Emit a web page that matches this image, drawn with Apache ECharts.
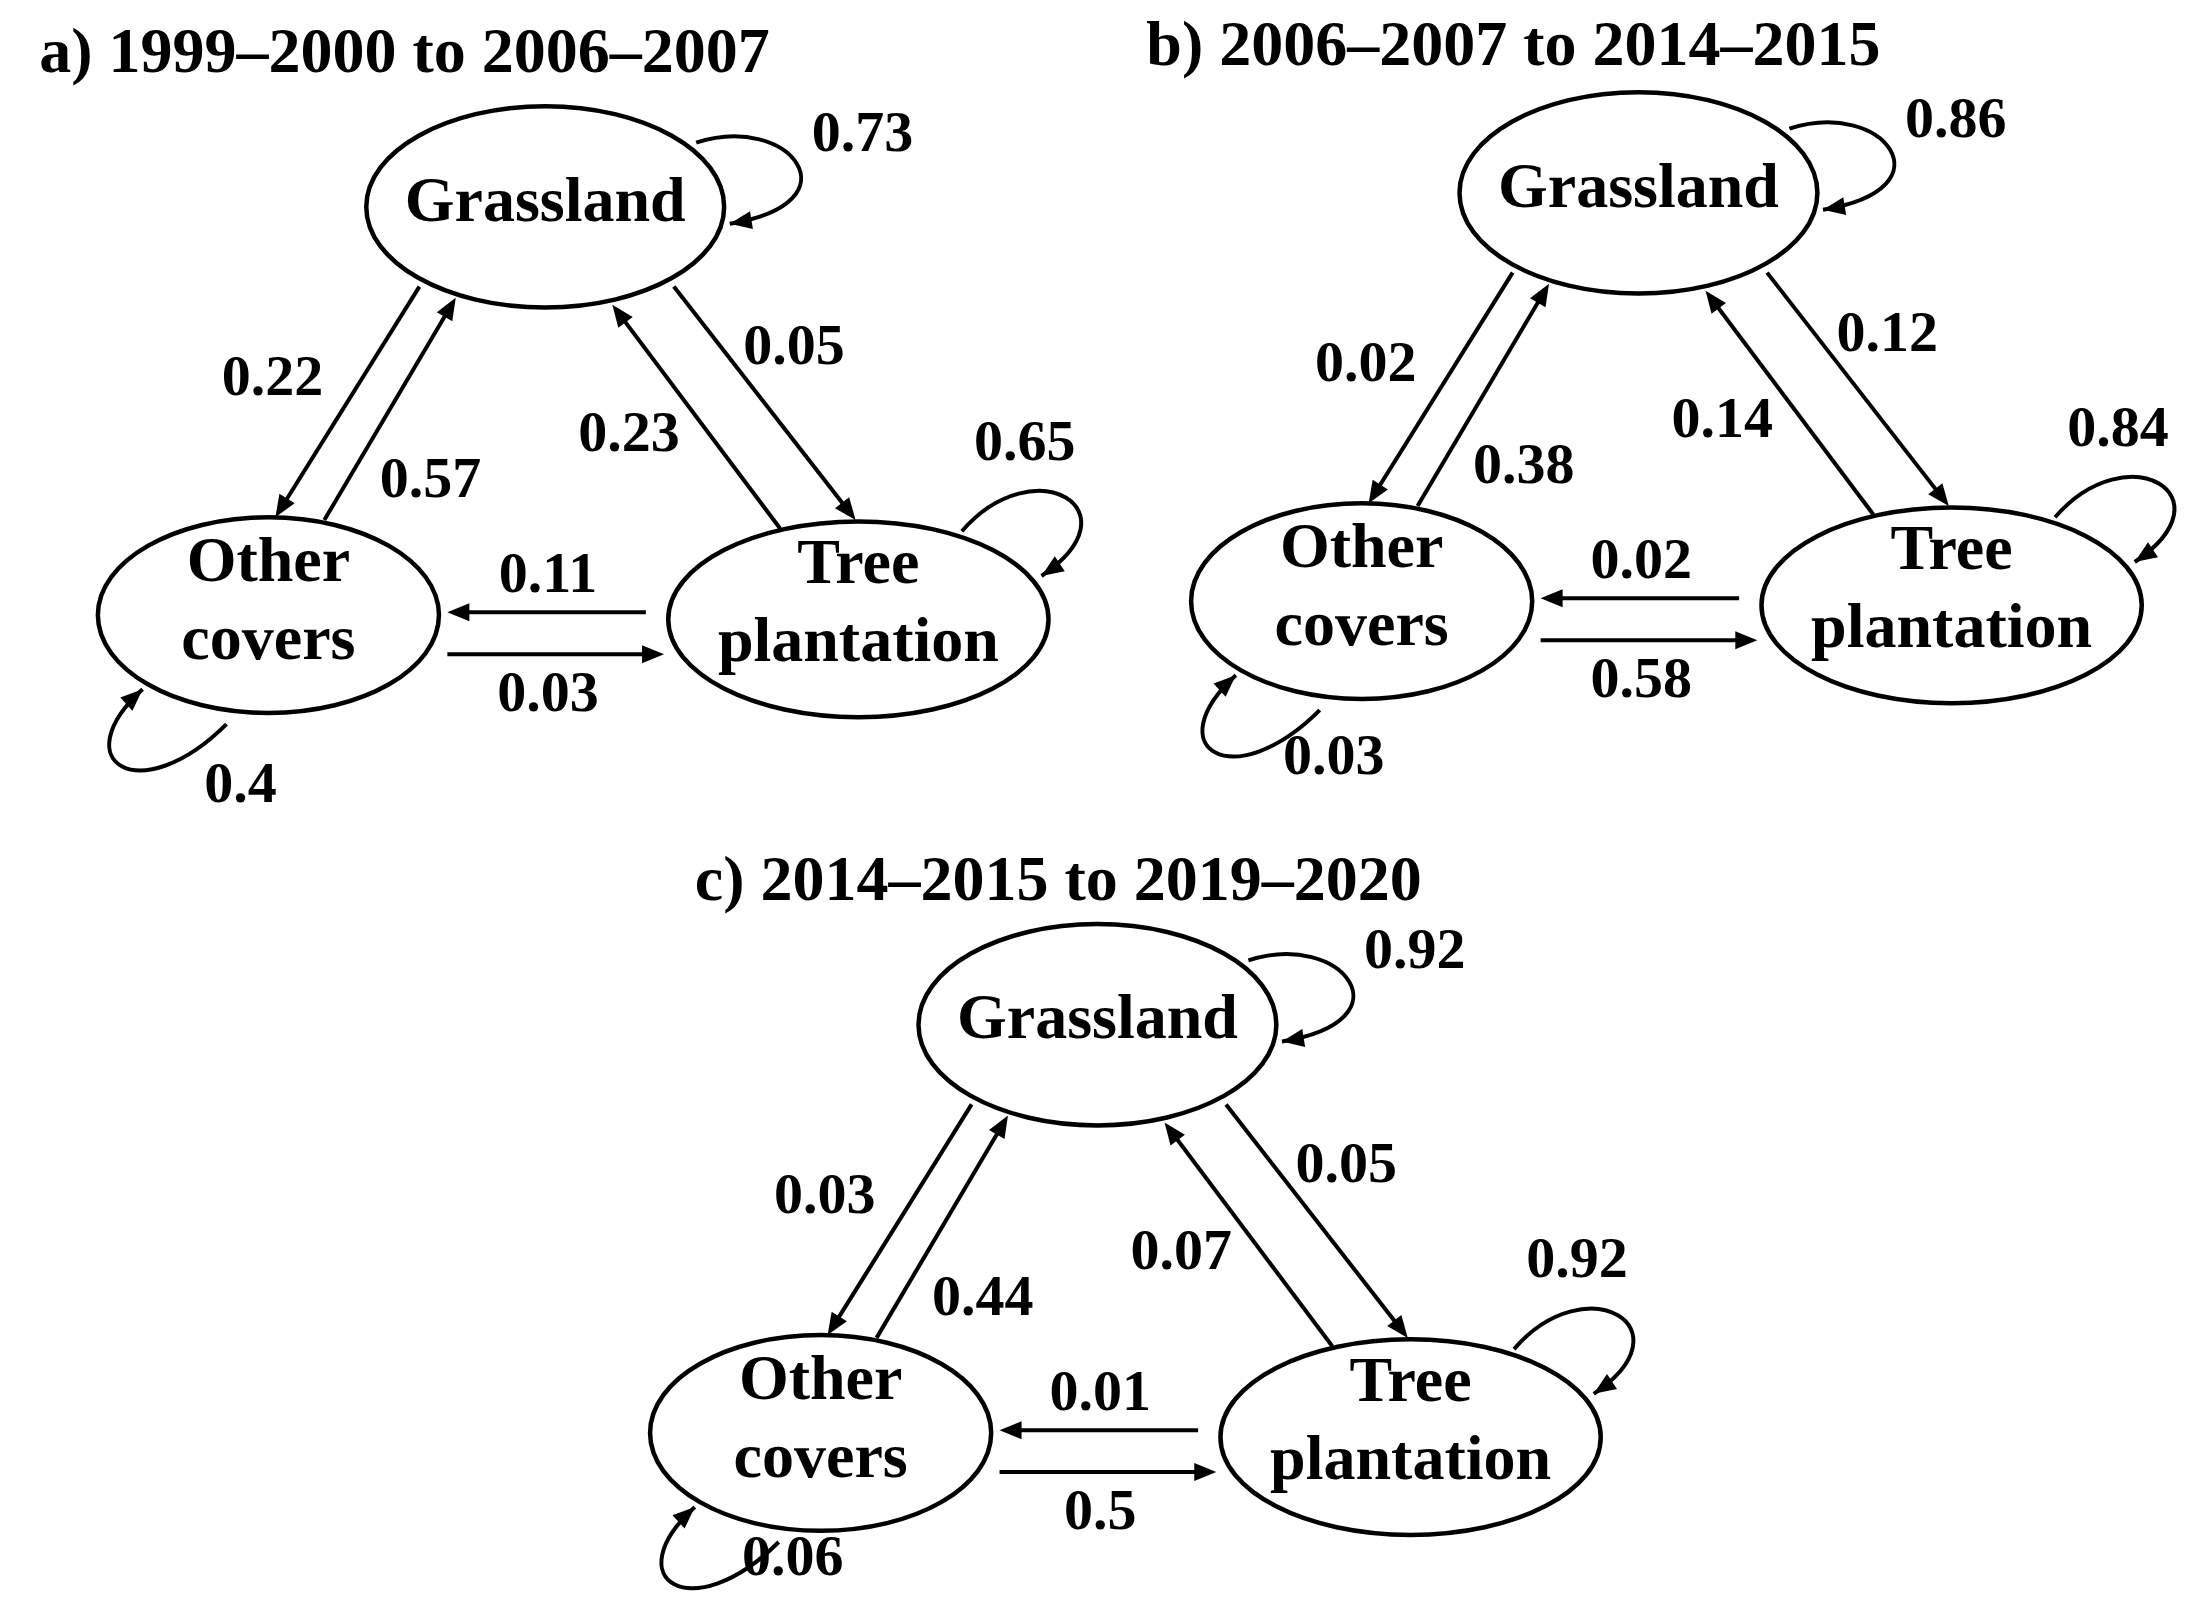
<!DOCTYPE html>
<html><head><meta charset="utf-8">
<script src="https://cdn.jsdelivr.net/npm/echarts@6/dist/echarts.min.js"></script>
<style>html,body{margin:0;background:#fff}#main{width:2192px;height:1610px}</style>
</head><body><div id="main"></div>
<script>
// transition probabilities per period
var titles = ['a) 1999–2000 to 2006–2007', 'b) 2006–2007 to 2014–2015', 'c) 2014–2015 to 2019–2020'];
var gToG = [0.73, 0.86, 0.92];
var gToO = [0.22, 0.02, 0.03];
var oToG = [0.57, 0.38, 0.44];
var gToT = [0.05, 0.12, 0.05];
var tToG = [0.23, 0.14, 0.07];
var tToT = [0.65, 0.84, 0.92];
var tToO = [0.11, 0.02, 0.01];
var oToT = [0.03, 0.58, 0.5];
var oToO = [0.4, 0.03, 0.06];

var S = 1.398;
var offsets = [[0, 0], [782, -10], [395, 585]];
var titlePos = [[28, 40], [820, 35], [497, 632]];
var loopLabelDy = [0, -10, -32];
var FONT = '"Liberation Serif", "Times New Roman", serif';

var myChart = echarts.init(document.getElementById('main'));
var els = [];

function P(p, x, y) { return [(x + offsets[p][0]) * S, (y + offsets[p][1]) * S]; }

function head(to, from) {
    var dx = to[0] - from[0], dy = to[1] - from[1];
    var l = Math.sqrt(dx * dx + dy * dy); dx /= l; dy /= l;
    var L = 22, W = 9;
    return { type: 'polygon', shape: { points: [to,
        [to[0] - dx * L - dy * W, to[1] - dy * L + dx * W],
        [to[0] - dx * L + dy * W, to[1] - dy * L - dx * W]] },
        style: { fill: '#000' } };
}
function arrow(p, x1, y1, x2, y2) {
    var a = P(p, x1, y1), b = P(p, x2, y2);
    var dx = b[0] - a[0], dy = b[1] - a[1], l = Math.sqrt(dx * dx + dy * dy);
    var e = [b[0] - dx / l * 18, b[1] - dy / l * 18];
    els.push({ type: 'line', shape: { x1: a[0], y1: a[1], x2: e[0], y2: e[1] }, style: { stroke: '#000', lineWidth: 4 } });
    els.push(head(b, a));
}
function loop(p, pts) {
    var q = pts.map(function (v) { return P(p, v[0], v[1]); });
    els.push({ type: 'bezierCurve', shape: { x1: q[0][0], y1: q[0][1], cpx1: q[1][0], cpy1: q[1][1],
        cpx2: q[2][0], cpy2: q[2][1], x2: q[3][0], y2: q[3][1] }, style: { stroke: '#000', lineWidth: 4, fill: null } });
    els.push(head(q[3], q[2]));
}
function text(p, x, y, s, size, lh) {
    var c = P(p, x, y);
    els.push({ type: 'text', x: c[0], y: c[1], style: { text: s, font: 'bold ' + size + 'px ' + FONT,
        fill: '#000', align: 'center', verticalAlign: 'middle', lineHeight: lh || size } });
}
function node(p, x, y, rx, ry, s, dy) {
    var c = P(p, x, y);
    els.push({ type: 'ellipse', shape: { cx: c[0], cy: c[1], rx: rx * S, ry: ry * S }, style: { stroke: '#000', lineWidth: 4.5, fill: '#fff' } });
    text(p, x, y + (dy || 0), s, 64, 78);
}

for (var p = 0; p < 3; p++) {
    var t = titlePos[p];
    els.push({ type: 'text', x: t[0] * S, y: t[1] * S, style: { text: titles[p], font: 'bold 64px ' + FONT, fill: '#000', verticalAlign: 'middle' } });
    node(p, 390, 148, 128, 72, 'Grassland', -2);
    node(p, 192, 440, 122, 70, 'Other\ncovers', -8);
    node(p, 614, 443, 136, 70, 'Tree\nplantation', -10);
    arrow(p, 300, 205, 197, 370); text(p, 195, 272, String(gToO[p]), 58);
    arrow(p, 232, 372, 326, 213); text(p, 308, 345, String(oToG[p]), 58);
    arrow(p, 482, 205, 612, 372); text(p, 568, 250, String(gToT[p]), 58);
    arrow(p, 558, 378, 438, 218); text(p, 450, 312, String(tToG[p]), 58);
    arrow(p, 462, 438, 320, 438); text(p, 392, 413, String(tToO[p]), 58);
    arrow(p, 320, 468, 475, 468); text(p, 392, 498, String(oToT[p]), 58);
    loop(p, [[498, 102], [565, 80], [615, 145], [522, 160]]); text(p, 617, 97, String(gToG[p]), 58);
    loop(p, [[688, 380], [740, 320], [815, 365], [745, 412]]); text(p, 733, 318, String(tToT[p]), 58);
    loop(p, [[162, 518], [100, 580], [45, 545], [102, 493]]); text(p, 172, 563 + loopLabelDy[p], String(oToO[p]), 58);
}

myChart.setOption({ animation: false, graphic: els });
</script></body></html>
